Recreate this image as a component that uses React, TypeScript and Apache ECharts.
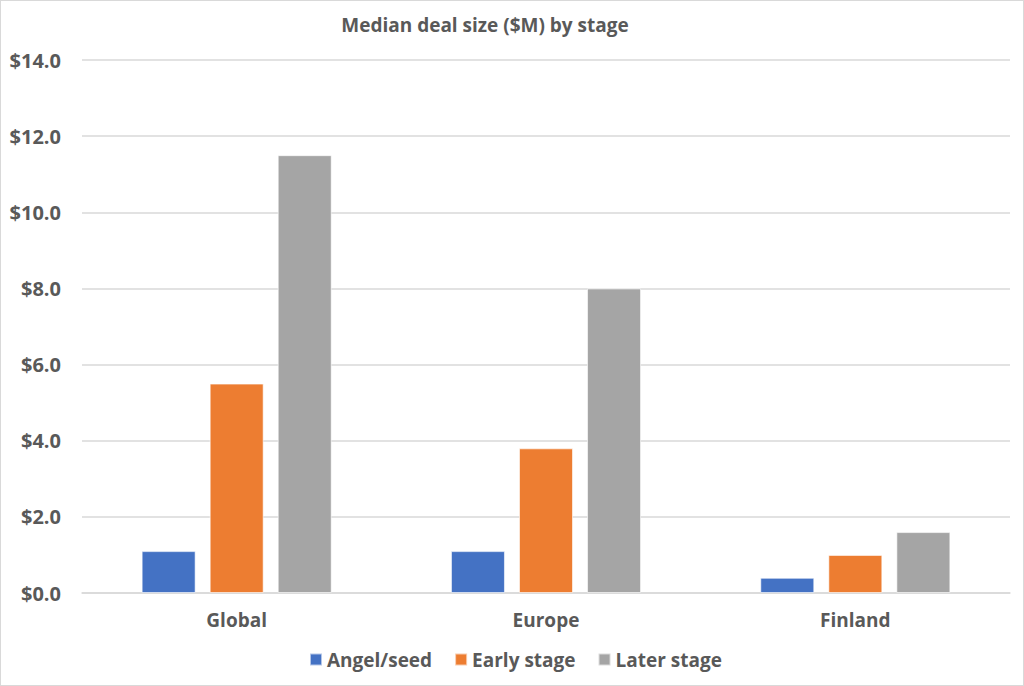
import React, { useEffect, useRef } from "react";
import * as echarts from "echarts";

const categories = ["Global", "Europe", "Finland"];
const angelSeed = [1.1, 1.1, 0.4];
const earlyStage = [5.5, 3.8, 1.0];
const laterStage = [11.5, 8.0, 1.6];
const seriesNames = ["Angel/seed", "Early stage", "Later stage"];
const colors = ["#4472C4", "#ED7D31", "#A5A5A5"];
const titleText = "Median deal size ($M) by stage";

const FONT = "'Open Sans', 'Noto Sans', sans-serif";
const TEXT_COLOR = "#595959";

export default function App() {
  const ref = useRef<HTMLDivElement>(null);
  useEffect(() => {
    document.body.style.margin = "0";
    if (!ref.current) return;
    const chart = echarts.init(ref.current, undefined, { renderer: "svg" });
    const values = [angelSeed, earlyStage, laterStage];
    chart.setOption({
      animation: false,
      backgroundColor: "#ffffff",
      title: {
        text: titleText,
        left: 479,
        top: 9,
        textAlign: "center",
        textStyle: { fontFamily: FONT, fontSize: 19, fontWeight: "bold", color: TEXT_COLOR },
      },
      legend: {
        bottom: 11,
        left: 303,
        itemWidth: 12,
        itemHeight: 12,
        itemGap: 22,
        icon: "rect",
        textStyle: { fontFamily: FONT, fontSize: 19, fontWeight: "bold", color: TEXT_COLOR },
        data: seriesNames,
      },
      grid: { left: 81, right: 13, top: 59, bottom: 92, containLabel: false },
      xAxis: {
        type: "category",
        data: categories,
        axisTick: { show: false },
        axisLine: { lineStyle: { color: "#D9D9D9", width: 1.5 } },
        axisLabel: { margin: 17, fontFamily: FONT, fontSize: 19, fontWeight: "bold", color: TEXT_COLOR },
      },
      yAxis: {
        type: "value",
        min: 0,
        max: 14,
        interval: 2,
        axisLine: { show: false },
        axisTick: { show: false },
        splitLine: { lineStyle: { color: "#D9D9D9", width: 1.5 } },
        axisLabel: {
          margin: 21,
          fontFamily: FONT,
          fontSize: 20,
          fontWeight: "bold",
          color: TEXT_COLOR,
          formatter: (v: number) => "$" + v.toFixed(1),
        },
      },
      series: seriesNames.map((name, i) => ({
        name,
        type: "bar",
        data: values[i],
        barWidth: 54,
        barGap: "26%",
        itemStyle: { color: colors[i], borderColor: "rgba(255,255,255,0.6)", borderWidth: 1 },
      })),
    });
    return () => chart.dispose();
  }, []);
  return (
    <div
      ref={ref}
      style={{
        position: "absolute",
        left: 0,
        top: 0,
        width: 1022,
        height: 684,
        border: "1px solid #D9D9D9",
      }}
    />
  );
}
